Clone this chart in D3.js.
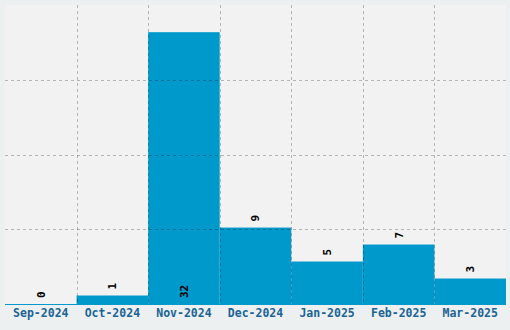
<!DOCTYPE html>
<html>
<head>
<meta charset="utf-8">
<script src="https://cdn.jsdelivr.net/npm/d3@7"></script>
<style>
  body { margin: 0; background: #edf0f0; }
  svg { display: block; }
</style>
</head>
<body>
<svg id="chart" width="510" height="330"></svg>
<script>
// monthly counts
const months = ["Sep-2024", "Oct-2024", "Nov-2024", "Dec-2024", "Jan-2025", "Feb-2025", "Mar-2025"];
const counts = [0, 1, 32, 9, 5, 7, 3];

const width = 510, height = 330;
const margin = { top: 5, right: 4, bottom: 26, left: 5 };
const innerW = width - margin.left - margin.right;
const innerH = height - margin.top - margin.bottom;

const svg = d3.select("#chart");
const g = svg.append("g")
  .attr("transform", "translate(" + margin.left + "," + margin.top + ")");

const x = d3.scaleBand().domain(months).range([0, innerW]).padding(0);
const yMax = d3.max(counts) * 1.1;
const y = d3.scaleLinear().domain([0, yMax]).range([innerH, 0]);

// plot background
g.append("rect")
  .attr("width", innerW)
  .attr("height", innerH)
  .attr("fill", "#f2f2f2");

// bars
g.selectAll("rect.bar")
  .data(counts)
  .join("rect")
  .attr("class", "bar")
  .attr("x", (d, i) => x(months[i]))
  .attr("y", d => y(d))
  .attr("width", x.bandwidth())
  .attr("height", d => innerH - y(d))
  .attr("fill", "#0099cc");

// baseline
g.append("line")
  .attr("x1", 0).attr("x2", innerW)
  .attr("y1", innerH + 0.5).attr("y2", innerH + 0.5)
  .attr("stroke", "#0099cc");

// grid lines drawn over the bars
const hTicks = d3.range(1, 4).map(k => yMax * k / 4);
g.selectAll("line.hgrid")
  .data(hTicks)
  .join("line")
  .attr("class", "hgrid")
  .attr("x1", 0).attr("x2", innerW)
  .attr("y1", d => Math.round(y(d)) + 0.5)
  .attr("y2", d => Math.round(y(d)) + 0.5)
  .attr("stroke", "rgba(0,0,0,0.25)")
  .attr("stroke-dasharray", "3,3");

g.selectAll("line.vgrid")
  .data(months.slice(1))
  .join("line")
  .attr("class", "vgrid")
  .attr("x1", d => Math.round(x(d)) + 0.5)
  .attr("x2", d => Math.round(x(d)) + 0.5)
  .attr("y1", 0).attr("y2", innerH)
  .attr("stroke", "rgba(0,0,0,0.25)")
  .attr("stroke-dasharray", "3,3");

// value labels, rotated; inside the bar when it is too tall
g.selectAll("text.val")
  .data(counts)
  .join("text")
  .attr("class", "val")
  .attr("transform", (d, i) => {
    const cx = x(months[i]) + x.bandwidth() / 2;
    const inside = y(d) < 30;
    const ty = inside ? innerH - 6 : y(d) - 6;
    return "translate(" + cx + "," + ty + ") rotate(-90)";
  })
  .attr("dy", "0.35em")
  .attr("text-anchor", "start")
  .attr("font-family", "DejaVu Sans Mono, monospace")
  .attr("font-weight", "bold")
  .attr("font-size", "11px")
  .attr("fill", "#000")
  .text(d => d);

// x axis labels
const xAxis = g.append("g")
  .attr("transform", "translate(0," + innerH + ")")
  .call(d3.axisBottom(x).tickSize(0).tickPadding(5));
xAxis.select(".domain").remove();
xAxis.selectAll("text")
  .attr("font-family", "DejaVu Sans Mono, monospace")
  .attr("font-weight", "bold")
  .attr("font-size", "11.5px")
  .attr("fill", "#1a6496");
</script>
</body>
</html>
